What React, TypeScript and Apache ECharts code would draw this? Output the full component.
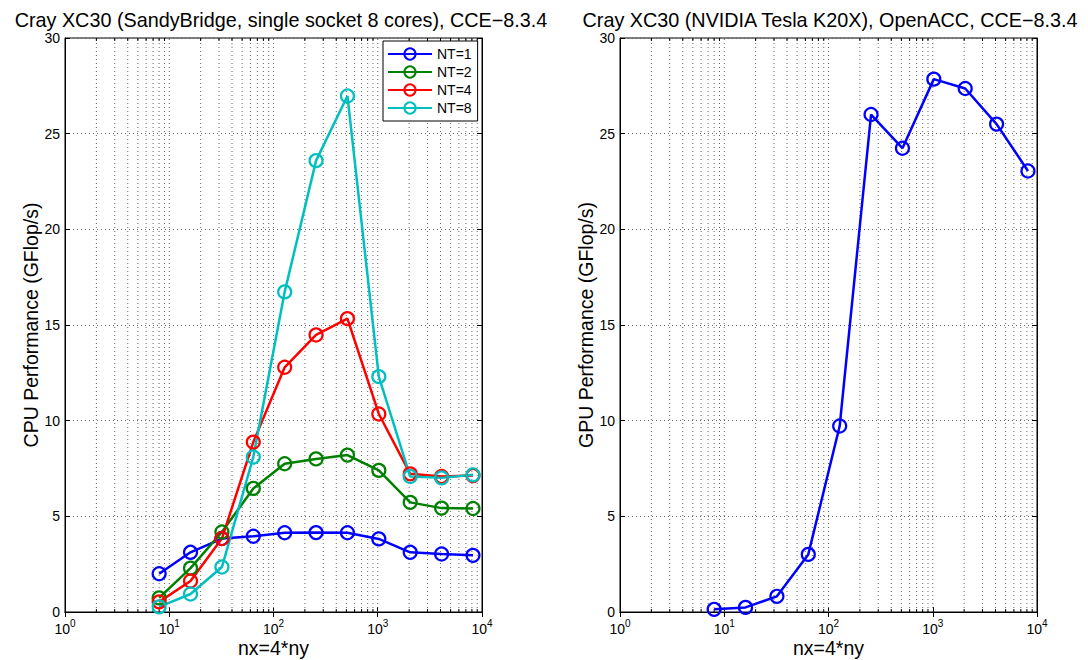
import React, { useEffect, useRef } from "react";
import * as echarts from "echarts";

const xValues = [8, 16, 32, 64, 128, 256, 512, 1024, 2048, 4096, 8192];
const nt1 = [2.0, 3.12, 3.84, 3.96, 4.14, 4.15, 4.14, 3.82, 3.12, 3.03, 2.96];
const nt2 = [0.74, 2.29, 4.18, 6.46, 7.75, 8.0, 8.2, 7.4, 5.73, 5.43, 5.41];
const nt4 = [0.53, 1.62, 3.84, 8.88, 12.79, 14.48, 15.33, 10.35, 7.22, 7.08, 7.13];
const nt8 = [0.27, 0.94, 2.35, 8.1, 16.73, 23.59, 26.97, 12.3, 7.08, 7.01, 7.17];
const gpu = [0.14, 0.24, 0.82, 3.01, 9.72, 26.0, 24.24, 27.85, 27.36, 25.5, 23.05];

const seriesNames = ["NT=1", "NT=2", "NT=4", "NT=8"];
const seriesColors = ["#0000ff", "#008000", "#ff0000", "#00bfbf"];
const cpuData = [nt1, nt2, nt4, nt8];

const titles = [
  "Cray XC30 (SandyBridge, single socket 8 cores), CCE\u22128.3.4",
  "Cray XC30 (NVIDIA Tesla K20X), OpenACC, CCE\u22128.3.4",
];
const yNames = ["CPU Performance (GFlop/s)", "GPU Performance (GFlop/s)"];
const xName = "nx=4*ny";
const decades = [1, 10, 100, 1000, 10000];
const yMin = 0;
const yMax = 30;
const yInterval = 5;

// vertical grid positions: [value, isMinor]
const gridMarks: number[][] = [];
for (let d = 0; d < 4; d++) {
  for (let m = 1; m <= 9; m++) {
    const v = m * decades[d];
    if (v === 1) continue;
    gridMarks.push([v, m === 1 ? 0 : 1]);
  }
}

const FONT = "Liberation Sans, Arial, Helvetica, sans-serif";

export default function App() {
  const ref = useRef<HTMLDivElement>(null);
  useEffect(() => {
    if (!ref.current) return;
    const chart = echarts.init(ref.current, undefined, { renderer: "svg" });

    const grids = [
      { left: 65, right: 606, top: 38, bottom: 48 },
      { left: 620, right: 51, top: 38, bottom: 48 },
    ];
    const titleCenters = [276, 825];

    const xAxes: any[] = [];
    const yAxes: any[] = [];
    for (let g = 0; g < 2; g++) {
      xAxes.push({
        type: "log",
        logBase: 10,
        gridIndex: g,
        min: decades[0],
        max: decades[decades.length - 1],
        position: "bottom",
        name: xName,
        nameLocation: "middle",
        nameGap: 26,
        nameMoveOverlap: false,
        nameTextStyle: { fontFamily: FONT, fontSize: 19.5, color: "#000", lineHeight: 20 },
        axisLine: { lineStyle: { color: "#000", width: 1 } },
        axisTick: { inside: true, length: 5, lineStyle: { color: "#000" } },
        splitLine: { show: false },
        axisLabel: {
          margin: 6,
          formatter: (val: number) => `{b|10}{e|${Math.round(Math.log10(val))}}`,
          rich: {
            b: { fontFamily: FONT, fontSize: 14, color: "#000", lineHeight: 18, verticalAlign: "bottom" },
            e: { fontFamily: FONT, fontSize: 10, color: "#000", lineHeight: 10, verticalAlign: "top" },
          },
        },
      });
      xAxes.push({
        type: "log",
        logBase: 10,
        gridIndex: g,
        min: decades[0],
        max: decades[decades.length - 1],
        position: "top",
        axisLine: { lineStyle: { color: "#000", width: 1 } },
        axisTick: { inside: true, length: 5, lineStyle: { color: "#000" } },
        axisLabel: { show: false },
        splitLine: { show: false },
      });
      yAxes.push({
        type: "value",
        gridIndex: g,
        min: yMin,
        max: yMax,
        interval: yInterval,
        position: "left",
        name: yNames[g],
        nameLocation: "middle",
        nameGap: 24,
        nameMoveOverlap: false,
        nameTextStyle: { fontFamily: FONT, fontSize: 19.5, color: "#000" },
        axisLine: { show: true, lineStyle: { color: "#000", width: 1 } },
        axisTick: { show: true, inside: true, length: 5, lineStyle: { color: "#000" } },
        axisLabel: { fontFamily: FONT, fontSize: 14, color: "#000", margin: 5 },
        splitLine: { show: true, lineStyle: { color: "#666", width: 1, type: [1, 3] } },
      });
      yAxes.push({
        type: "value",
        gridIndex: g,
        min: yMin,
        max: yMax,
        interval: yInterval,
        position: "right",
        axisLine: { show: true, lineStyle: { color: "#000", width: 1 } },
        axisTick: { show: true, inside: true, length: 5, lineStyle: { color: "#000" } },
        axisLabel: { show: false },
        splitLine: { show: false },
      });
    }

    const gridSeries = [0, 1].map((g) => ({
      type: "custom",
      xAxisIndex: g * 2,
      yAxisIndex: g * 2,
      silent: true,
      z: 1,
      data: gridMarks,
      renderItem: (params: any, api: any) => {
        const v = api.value(0);
        const minor = api.value(1);
        const pb = api.coord([v, yMin]);
        const pt = api.coord([v, yMax]);
        const children: any[] = [
          {
            type: "line",
            shape: { x1: pb[0], y1: pb[1], x2: pt[0], y2: pt[1] },
            style: { stroke: "#666", lineWidth: 1, lineDash: [1, 3] },
          },
        ];
        if (minor) {
          children.push({
            type: "line",
            shape: { x1: pb[0], y1: pb[1], x2: pb[0], y2: pb[1] - 3 },
            style: { stroke: "#000", lineWidth: 1 },
          });
          children.push({
            type: "line",
            shape: { x1: pt[0], y1: pt[1], x2: pt[0], y2: pt[1] + 3 },
            style: { stroke: "#000", lineWidth: 1 },
          });
        }
        return { type: "group", children };
      },
    }));

    const mkLine = (name: string, color: string, ys: number[], g: number) => ({
      type: "line",
      name,
      xAxisIndex: g * 2,
      yAxisIndex: g * 2,
      data: xValues.map((x, i) => [x, ys[i]]),
      symbol: "circle",
      symbolSize: 13,
      showSymbol: true,
      z: 3,
      lineStyle: { color, width: 2.5 },
      itemStyle: { color: "rgba(255,255,255,0)", borderColor: color, borderWidth: 2.2 },
      emphasis: { disabled: true },
    });

    const lineSeries: any[] = cpuData.map((ys, i) => mkLine(seriesNames[i], seriesColors[i], ys, 0));
    lineSeries.push(mkLine("GPU", "#0000ff", gpu, 1));

    chart.setOption({
      animation: false,
      backgroundColor: "#fff",
      title: titles.map((t, g) => ({
        text: t,
        left: titleCenters[g],
        top: 5,
        textAlign: "center",
        textStyle: { fontFamily: FONT, fontSize: 19.8, fontWeight: "normal", color: "#000" },
      })),
      grid: grids.map((gr) => ({
        ...gr,
        show: true,
        borderColor: "#000",
        borderWidth: 1,
        backgroundColor: "#fff",
        outerBoundsMode: "none",
        containLabel: false,
      })),
      xAxis: xAxes,
      yAxis: yAxes,
      legend: {
        data: seriesNames,
        orient: "vertical",
        left: 383,
        top: 41,
        backgroundColor: "#fff",
        borderColor: "#000",
        borderWidth: 1,
        borderRadius: 0,
        padding: [6, 6, 6, 4],
        itemWidth: 44,
        itemHeight: 14,
        itemGap: 4,
        textStyle: { fontFamily: FONT, fontSize: 14, color: "#000", lineHeight: 14 },
        selectedMode: false,
      },
      series: [...gridSeries, ...lineSeries],
    });

    return () => chart.dispose();
  }, []);

  return (
    <div
      ref={ref}
      style={{ position: "fixed", left: 0, top: 0, width: 1088, height: 660, background: "#fff" }}
    />
  );
}
